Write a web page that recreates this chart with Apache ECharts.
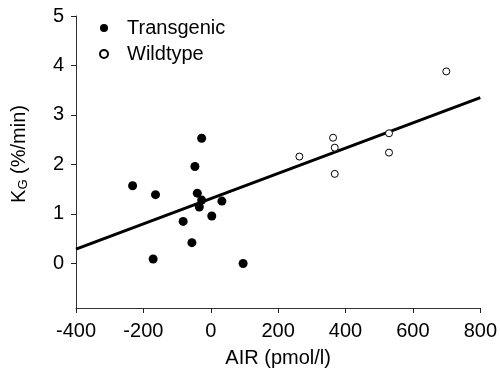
<!DOCTYPE html>
<html>
<head>
<meta charset="utf-8">
<script src="https://cdn.jsdelivr.net/npm/echarts@6/dist/echarts.min.js"></script>
<style>html,body{margin:0;padding:0;background:#fff;}#c{width:500px;height:381px;}</style>
</head>
<body>
<div id="c"></div>
<script>
// Transgenic (filled)
const transX = [-27, -47, -164, -40, -27, 33, -34, 3, -82, -56, -171, 96, -232];
const transY = [2.53, 1.96, 1.39, 1.42, 1.28, 1.26, 1.14, 0.96, 0.85, 0.42, 0.09, 0.0, 1.57];
// Wildtype (open)
const wildX = [699, 363, 368, 263, 529, 529, 368];
const wildY = [3.88, 2.54, 2.34, 2.16, 2.63, 2.24, 1.81];
// Regression line end points
const fitX = [-400, 800];
const fitY = [0.29, 3.35];
const xTicks = [-400, -200, 0, 200, 400, 600, 800];
const yTicks = [0, 1, 2, 3, 4, 5];

const zip = (a, b) => a.map((v, i) => [v, b[i]]);
const font = 'Liberation Sans, Arial, sans-serif';
const chart = echarts.init(document.getElementById('c'), null, {renderer: 'canvas'});
chart.setOption({
  animation: false,
  backgroundColor: '#fff',
  grid: {left: 76, right: 18, top: 16, bottom: 73, containLabel: false},
  legend: {
    orient: 'vertical', left: 94, top: 13, itemGap: 6, itemWidth: 8, itemHeight: 8,
    data: ['Transgenic', 'Wildtype'],
    textStyle: {fontFamily: font, fontSize: 20, color: '#000', padding: [0, 0, 0, 14], lineHeight: 20}
  },
  xAxis: {
    type: 'value', min: -400, max: 800, interval: 200,
    name: 'AIR (pmol/l)', nameLocation: 'middle', nameGap: 40,
    nameTextStyle: {fontFamily: font, fontSize: 20, color: '#000'},
    axisLine: {show: true, onZero: false, lineStyle: {color: '#333', width: 1}},
    axisTick: {show: true, length: 5, inside: false, lineStyle: {color: '#222', width: 1}},
    axisLabel: {fontFamily: font, fontSize: 20, color: '#000', margin: 13},
    splitLine: {show: false}
  },
  yAxis: {
    type: 'value', min: -0.9, max: 5,
    name: '{k|K}{g|G}{k| (%/min)}', nameLocation: 'middle', nameGap: 46, nameRotate: 90,
    nameTextStyle: {fontFamily: font, fontSize: 20, color: '#000', padding: [0, 0, 0, 16],
      rich: {
        k: {fontFamily: font, fontSize: 20, color: '#000'},
        g: {fontFamily: font, fontSize: 13, color: '#000', verticalAlign: 'bottom', padding: [8, 0, 0, 0]}
      }},
    axisLine: {show: true, onZero: false, lineStyle: {color: '#333', width: 1}},
    axisTick: {show: true, length: 5, inside: false, lineStyle: {color: '#222', width: 1}, customValues: yTicks},
    axisLabel: {fontFamily: font, fontSize: 20, color: '#000', margin: 12, customValues: yTicks},
    splitLine: {show: false}
  },
  series: [
    {
      name: 'Fit', type: 'line', data: zip(fitX, fitY), symbol: 'none',
      lineStyle: {color: '#000', width: 3}, z: 1, silent: true
    },
    {
      name: 'Transgenic', type: 'scatter', data: zip(transX, transY),
      symbol: 'circle', symbolSize: 9,
      itemStyle: {color: '#000', opacity: 1}, z: 3
    },
    {
      name: 'Wildtype', type: 'scatter', data: zip(wildX, wildY),
      symbol: 'circle', symbolSize: 7,
      itemStyle: {color: '#fff', borderColor: '#000', borderWidth: 1, opacity: 1}, z: 3
    }
  ]
});
</script>
</body>
</html>
